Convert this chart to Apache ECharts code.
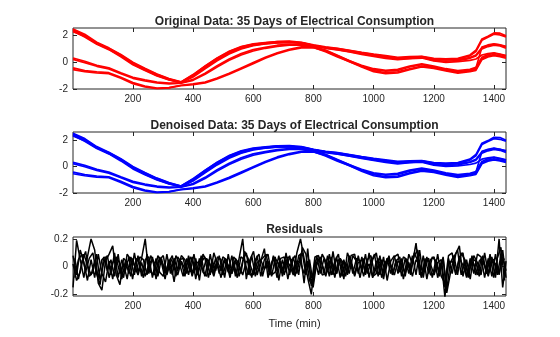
<!DOCTYPE html>
<html><head><meta charset="utf-8">
<script src="https://cdn.jsdelivr.net/npm/echarts@6/dist/echarts.min.js"></script>
<style>html,body{margin:0;padding:0;background:#fff}#c{width:560px;height:337px}</style>
</head><body><div id="c"></div><script>
// sampling minutes for the daily profiles
const minutes = [1,40,80,120,160,200,240,280,320,360,400,440,480,520,560,600,640,680,720,760,800,840,880,920,960,1000,1040,1080,1120,1160,1200,1240,1280,1320,1340,1360,1380,1400,1420,1440];

// daily consumption profiles (normalized)
const dayA1 = [2.45,2.00,1.45,1.00,0.50,-0.10,-0.55,-0.95,-1.28,-1.50,-1.00,-0.35,0.25,0.75,1.10,1.32,1.42,1.50,1.52,1.45,1.25,1.12,1.02,0.88,0.72,0.58,0.45,0.32,0.38,0.42,0.25,0.18,0.20,0.35,0.55,1.10,1.25,1.35,1.30,1.15];
const dayA2 = [2.35,1.90,1.35,0.95,0.42,-0.18,-0.62,-1.02,-1.32,-1.52,-1.10,-0.48,0.12,0.62,1.00,1.25,1.38,1.45,1.50,1.48,1.28,1.08,0.95,0.80,0.65,0.50,0.38,0.25,0.30,0.36,0.15,0.08,0.12,0.30,0.48,1.00,1.18,1.28,1.22,1.05];
const dayA3 = [2.30,1.95,1.40,1.05,0.55,-0.05,-0.50,-0.90,-1.25,-1.48,-0.95,-0.30,0.30,0.80,1.15,1.35,1.45,1.55,1.55,1.40,1.22,1.05,0.92,0.78,0.60,0.45,0.30,0.20,0.28,0.32,0.10,0.00,0.05,0.15,0.25,0.55,0.65,0.70,0.62,0.50];
const dayD1 = [2.50,2.10,1.50,1.08,0.58,0.00,-0.45,-0.88,-1.22,-1.47,-0.92,-0.28,0.32,0.82,1.18,1.38,1.48,1.55,1.58,1.50,1.30,1.15,1.05,0.90,0.75,0.62,0.50,0.38,0.42,0.45,0.30,0.25,0.30,0.55,0.90,1.75,1.95,2.20,2.18,1.98];
const dayD2 = [2.40,2.05,1.42,0.98,0.48,-0.12,-0.58,-0.98,-1.30,-1.52,-1.05,-0.42,0.18,0.68,1.05,1.28,1.40,1.48,1.50,1.45,1.25,1.10,0.98,0.84,0.68,0.52,0.40,0.30,0.35,0.40,0.22,0.18,0.25,0.48,0.80,1.65,1.88,2.10,2.05,1.90];
const dayB1 = [0.32,0.08,-0.22,-0.42,-0.78,-1.12,-1.32,-1.48,-1.56,-1.55,-1.28,-0.82,-0.25,0.25,0.65,0.95,1.12,1.28,1.35,1.32,1.18,0.88,0.48,0.12,-0.22,-0.48,-0.60,-0.52,-0.28,-0.12,-0.28,-0.48,-0.62,-0.52,-0.38,0.38,0.58,0.68,0.58,0.48];
const dayB2 = [0.22,-0.02,-0.30,-0.50,-0.85,-1.20,-1.40,-1.55,-1.62,-1.56,-1.35,-0.90,-0.35,0.15,0.55,0.85,1.05,1.20,1.28,1.28,1.12,0.80,0.40,0.05,-0.30,-0.55,-0.66,-0.60,-0.35,-0.18,-0.35,-0.55,-0.70,-0.60,-0.45,1.15,1.30,1.38,1.30,1.20];
const dayC1 = [-0.42,-0.62,-0.72,-0.78,-1.12,-1.52,-1.78,-1.93,-1.90,-1.72,-1.62,-1.48,-1.18,-0.82,-0.42,-0.02,0.38,0.72,0.98,1.15,1.18,0.92,0.52,0.12,-0.28,-0.62,-0.78,-0.72,-0.48,-0.28,-0.38,-0.58,-0.75,-0.62,-0.52,0.28,0.48,0.58,0.48,0.38];
const dayC2 = [-0.55,-0.70,-0.80,-0.85,-1.20,-1.60,-1.85,-1.98,-1.92,-1.75,-1.68,-1.55,-1.25,-0.90,-0.50,-0.10,0.30,0.65,0.90,1.08,1.10,0.85,0.45,0.05,-0.35,-0.70,-0.85,-0.80,-0.55,-0.35,-0.45,-0.65,-0.82,-0.70,-0.60,0.20,0.40,0.50,0.42,0.30];
const days = [dayA1, dayA2, dayA3, dayD1, dayD2, dayB1, dayB2, dayC1, dayC2];

// residuals (original - denoised); A-C sampled at minute 1+12k, D-E at minute 7+12k
const resA = [-0.15,0.19,0.05,-0.08,0.07,0.20,0.12,-0.12,-0.17,0.04,
  0.09,0.15,-0.06,-0.13,0.06,0.03,-0.07,0.10,-0.04,0.06,
  0.20,-0.05,0.07,-0.09,0.05,0.08,-0.06,0.04,-0.11,0.07,
  0.03,-0.07,0.08,-0.05,0.06,-0.10,0.09,0.04,-0.06,0.10,
  0.02,-0.08,0.05,-0.04,0.08,-0.07,0.06,0.20,-0.09,0.05,
  0.11,-0.06,0.04,0.13,-0.08,0.03,0.07,-0.10,0.05,-0.04,
  0.08,-0.05,0.10,0.20,0.06,-0.08,-0.20,0.05,-0.06,0.09,
  0.04,-0.07,0.11,-0.05,0.06,-0.09,0.10,0.03,-0.06,0.08,
  -0.04,0.09,-0.08,0.05,0.10,-0.06,0.07,-0.10,0.04,0.08,
  -0.05,0.06,-0.07,0.09,0.02,0.17,-0.06,0.08,-0.09,0.05,
  0.07,-0.08,0.04,-0.22,0.06,-0.05,0.09,0.15,-0.07,0.05,
  -0.09,0.08,0.03,-0.06,0.10,-0.05,0.07,-0.08,0.20,-0.15,0.04];
const resB = [0.08,-0.06,0.12,0.03,-0.10,0.05,-0.08,0.09,-0.05,-0.11,
  0.04,-0.09,0.07,0.02,-0.08,0.09,0.05,-0.06,0.08,-0.07,
  0.05,0.07,-0.08,0.06,-0.04,-0.07,0.09,-0.05,0.06,-0.03,
  0.08,0.05,-0.06,0.07,-0.09,0.06,-0.04,-0.07,0.09,-0.05,
  0.07,0.05,-0.08,0.09,-0.05,0.06,-0.07,0.04,0.10,-0.06,
  -0.05,0.08,-0.07,0.05,0.09,-0.06,-0.04,0.08,-0.07,0.10,
  -0.06,0.07,-0.05,0.09,-0.12,0.13,-0.14,0.07,0.08,-0.06,
  -0.05,0.09,-0.06,0.07,-0.08,0.05,-0.06,0.08,0.09,-0.05,
  0.07,-0.06,0.10,-0.07,-0.05,0.08,-0.09,0.06,-0.05,0.07,
  0.09,-0.07,0.06,-0.05,0.08,-0.06,0.12,-0.08,0.07,-0.06,
  -0.05,0.09,-0.07,-0.12,0.08,0.10,-0.06,0.07,0.10,-0.08,
  0.06,-0.05,0.09,0.07,-0.08,0.06,-0.07,0.09,-0.06,0.12,-0.08];
const resC = [0.02,-0.10,-0.04,0.09,0.01,-0.06,0.04,-0.08,0.05,0.07,
  -0.08,0.03,0.06,-0.05,0.02,-0.09,0.07,0.01,-0.06,0.03,
  -0.07,0.02,0.05,-0.03,0.07,0.01,-0.05,0.06,0.01,-0.06,
  0.04,-0.02,0.05,-0.07,0.02,0.04,-0.03,0.06,0.01,-0.07,
  0.04,-0.03,0.06,0.01,-0.05,0.03,0.01,-0.06,0.04,0.02,
  -0.06,0.03,0.05,-0.02,0.04,-0.07,0.06,0.02,-0.03,0.05,
  0.01,-0.06,0.04,0.03,-0.05,0.04,-0.08,-0.03,0.05,0.02,
  -0.07,0.04,0.01,-0.05,0.06,0.02,-0.04,0.05,-0.07,0.03,
  0.05,-0.03,0.02,-0.08,0.04,0.03,-0.05,0.06,0.01,-0.06,
  0.04,0.02,-0.05,0.03,-0.07,0.05,0.01,-0.04,0.06,0.02,
  -0.06,0.03,0.05,-0.15,0.02,0.04,-0.05,0.06,0.01,-0.07,
  0.04,0.02,-0.06,0.05,0.01,-0.07,0.04,0.02,-0.05,0.06,-0.03];
const resD = [0.06,-0.09,0.04,0.11,-0.07,-0.04,0.09,-0.10,0.03,0.08,
  -0.06,0.10,-0.08,0.05,-0.03,0.07,-0.09,0.06,0.02,-0.08,
  0.09,-0.04,-0.06,0.08,0.03,-0.09,0.05,-0.06,0.08,0.02,
  -0.07,0.06,-0.04,0.09,-0.06,0.03,0.07,-0.08,0.05,-0.03,
  0.08,-0.06,0.03,-0.08,0.07,0.04,-0.05,0.11,0.06,-0.08,
  0.05,0.09,-0.07,0.04,-0.06,0.08,-0.03,0.06,0.07,-0.09,
  0.04,0.08,-0.06,0.14,0.09,-0.10,-0.15,0.03,0.07,-0.05,
  0.08,-0.06,0.04,0.09,-0.07,0.03,-0.05,0.08,0.04,-0.08,
  0.06,-0.05,0.03,0.09,-0.07,0.05,-0.04,0.08,-0.06,0.04,
  0.07,-0.09,0.05,-0.03,0.08,0.12,-0.07,0.04,0.06,-0.08,
  0.05,-0.04,0.07,-0.17,0.03,0.08,-0.06,0.10,0.05,-0.07,
  0.08,-0.06,0.04,0.07,-0.05,0.09,-0.08,0.06,0.14,-0.10];
const resE = [-0.08,0.05,0.09,-0.04,0.06,0.10,-0.05,-0.13,0.07,-0.03,
  0.05,-0.07,0.09,-0.09,0.04,-0.05,0.06,-0.04,0.07,0.05,
  -0.06,0.08,0.03,-0.07,0.06,-0.05,0.03,0.08,-0.07,0.05,
  0.06,-0.05,0.07,0.02,-0.06,0.08,-0.07,0.05,-0.04,0.06,
  -0.05,0.07,0.05,-0.06,0.03,-0.08,0.07,0.05,-0.06,0.08,
  -0.07,0.04,0.06,0.09,-0.05,0.07,-0.08,0.04,-0.06,0.07,
  0.05,-0.07,0.08,0.10,-0.06,0.05,-0.12,0.08,-0.05,0.06,
  -0.04,0.07,-0.08,0.05,0.03,-0.07,0.08,-0.05,0.06,0.04,
  -0.07,0.05,0.08,-0.05,0.06,-0.08,0.03,0.07,-0.06,0.05,
  -0.04,0.07,0.05,-0.06,0.10,0.04,-0.08,0.06,-0.05,0.07,
  0.04,-0.07,0.06,-0.19,-0.05,0.07,0.12,-0.06,0.05,-0.08,
  0.06,0.04,-0.07,0.08,-0.05,0.06,0.05,-0.06,0.08,0.05];
const residuals = [[resA, 1], [resB, 1], [resC, 1], [resD, 7], [resE, 7]];
const resStep = 12;

const xTicks = [200,400,600,800,1000,1200,1400];
const yTicksData = [-2,0,2];
const yTicksRes = [-0.2,0,0.2];
const titles = ['Original Data: 35 Days of Electrical Consumption','Denoised Data: 35 Days of Electrical Consumption','Residuals'];
const xLabel = 'Time (min)';

const FONT = 'Liberation Sans, Arial, Helvetica, sans-serif';
const INK = '#262626';
const grids = [
  {left:73, width:433, top:28, height:61},
  {left:73, width:433, top:132, height:61},
  {left:73, width:433, top:237, height:59}
].map(g => Object.assign(g, {show:true, borderColor:INK, borderWidth:1, backgroundColor:'#fff'}));

function xAx(gi, pos, lab) {
  return {type:'value', gridIndex:gi, position:pos, min:1, max:1440,
    axisLine:{show:false, onZero:false}, splitLine:{show:false},
    axisTick:{show:true, inside:true, length:4, customValues:xTicks, lineStyle:{color:INK, width:1}},
    axisLabel:{show:lab, customValues:xTicks, color:INK, fontSize:10, margin:5, fontFamily:FONT,
      formatter: v => String(v)}};
}
function yAx(gi, pos, lab, mn, mx, ticks) {
  return {type:'value', gridIndex:gi, position:pos, min:mn, max:mx,
    axisLine:{show:false, onZero:false}, splitLine:{show:false},
    axisTick:{show:true, inside:true, length:4, customValues:ticks, lineStyle:{color:INK, width:1}},
    axisLabel:{show:lab, customValues:ticks, color:INK, fontSize:10, margin:5, fontFamily:FONT,
      formatter: v => String(v)}};
}
const xAxis = [], yAxis = [];
const yr = [[-2.0,2.57,yTicksData],[-2.0,2.6,yTicksData],[-0.212,0.214,yTicksRes]];
for (let g = 0; g < 3; g++) {
  xAxis.push(xAx(g,'bottom',true), xAx(g,'top',false));
  yAxis.push(yAx(g,'left',true,yr[g][0],yr[g][1],yr[g][2]), yAx(g,'right',false,yr[g][0],yr[g][1],yr[g][2]));
}
const series = [];
const colors = ['#ff0000','#0000ff'];
for (let g = 0; g < 2; g++) {
  days.forEach(d => series.push({type:'line', xAxisIndex:2*g, yAxisIndex:2*g, symbol:'none', silent:true,
    lineStyle:{color:colors[g], width:1.7}, data:d.map((v,i)=>[minutes[i], v])}));
}
residuals.forEach(([r, start]) => {
  series.push({type:'line', xAxisIndex:4, yAxisIndex:4, symbol:'none', silent:true,
    lineStyle:{color:'#000', width:1.5},
    data:r.map((v,i)=>[Math.min(1440, start + i*resStep), v])});
});
const titleTops = [11, 115, 219];
const title = titles.map((t,i)=>({text:t, left:289.5, top:titleTops[i], textAlign:'center',
  textStyle:{fontFamily:FONT, fontSize:12, fontWeight:'bold', color:INK}}));
title.push({text:xLabel, left:289.5, top:313, textAlign:'center',
  textStyle:{fontFamily:FONT, fontSize:11, fontWeight:'normal', color:INK}});

const chart = echarts.init(document.getElementById('c'), null, {renderer:'canvas'});
chart.setOption({animation:false, backgroundColor:'#fff', title, grid:grids, xAxis, yAxis, series});
</script></body></html>
